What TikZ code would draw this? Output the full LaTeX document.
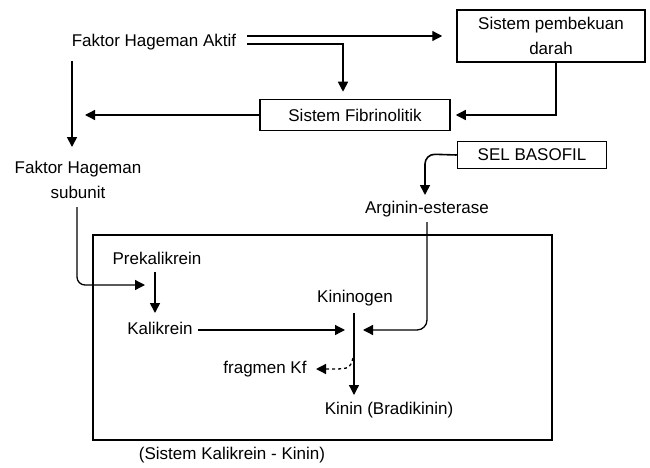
\documentclass[tikz,border=0pt]{standalone}
\usepackage{fontspec}
\setmainfont{Liberation Sans}
\usetikzlibrary{arrows.meta}
\begin{document}
\begin{tikzpicture}[x=1pt,y=1pt,line width=1.3pt,
	txt/.style={inner sep=0pt,font=\fontsize{17}{25}\selectfont},
	boks/.style={txt,draw,line width=1.5pt,align=center},
	arr/.style={-{Triangle[length=10pt,width=10pt]}}]
\useasboundingbox (0,0) rectangle (650,467);

% nodes
\node[txt] (aktif) at (154,425) {Faktor Hageman Aktif};
\node[boks,minimum width=188pt,minimum height=52pt] (pembekuan) at (551,431) {Sistem pembekuan\\darah};
\node[boks,minimum width=190pt,minimum height=31pt] (fibrino) at (355,352) {Sistem Fibrinolitik};
\node[txt,align=center] (subunit) at (78,287) {Faktor Hageman\\subunit};
\node[boks,minimum width=149pt,minimum height=27pt] (basofil) at (532,312) {SEL BASOFIL};
\node[txt] (esterase) at (427,258) {Arginin-esterase};
\node[draw,line width=1.5pt,minimum width=459pt,minimum height=205pt] (kallbox) at (322.5,129.5) {};
\node[txt] (caption) at (232,12) {(Sistem Kalikrein - Kinin)};
\node[txt] (prekal) at (157,209) {Prekalikrein};
\node[txt] (kalik) at (160,139) {Kalikrein};
\node[txt] (kininogen) at (355,169) {Kininogen};
\node[txt] (fragmen) at (265,98) {fragmen Kf};
\node[txt] (kinin) at (389,57) {Kinin (Bradikinin)};

% connectors
\coordinate (a1) at (247,431);
\coordinate (a2) at (247,423);
\draw[arr] (a1) -- ([xshift=-14pt]pembekuan.west |- a1);
\draw[arr,line width=1.6pt] (a2) -| ([yshift=7pt]fibrino.north -| 343,0);
\draw[arr] (pembekuan.south -| 556,0) |- ([xshift=5pt]fibrino.east);
\draw[arr] (fibrino.west) -- (85,352);
\draw[arr,line width=1.6pt] (72,406) -- (72,320);
\draw[arr,rounded corners=8pt] (77,260) -- (77,182) -- (145,182);
\draw[arr,line width=1.6pt] (155,195) -- (155,154);
\draw[arr] (198,137) -- (345,137);
\draw[arr] (354,154) -- (354,72);
\draw[arr,line width=1.6pt,rounded corners=10pt] (basofil.west) -- (425,313) -- (425,272);
\draw[arr,rounded corners=10pt] (427,245) -- (427,137) -- (363,137);
\draw[arr,dashed] (353,109) .. controls (350,99) .. (338,98) -- (316,98);
\end{tikzpicture}
\end{document}
